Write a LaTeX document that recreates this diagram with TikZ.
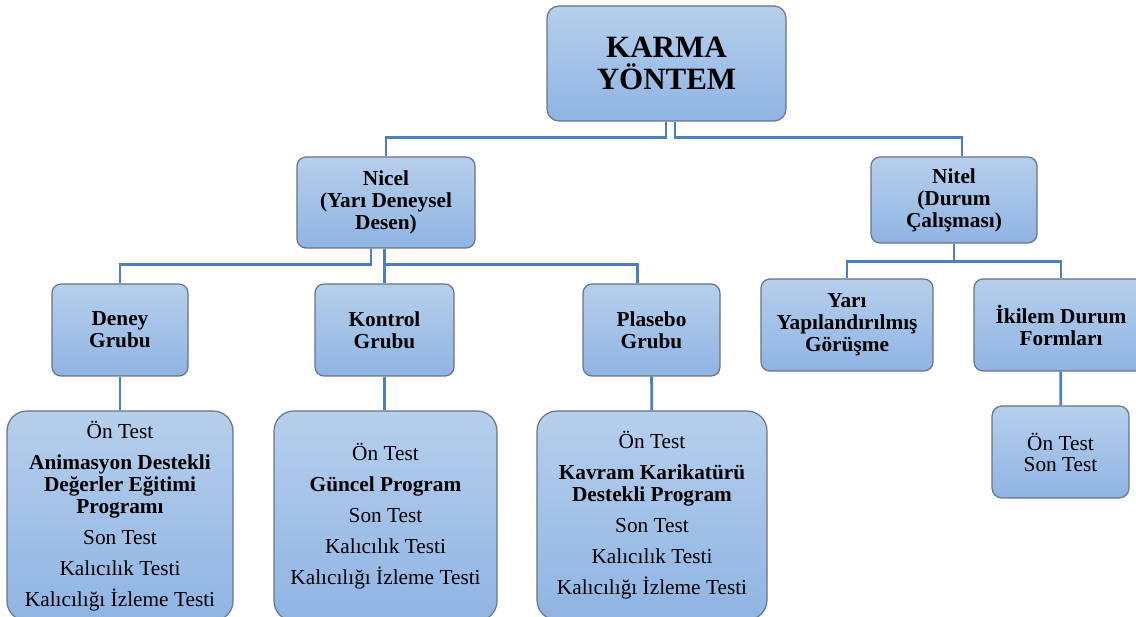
\documentclass[tikz,border=0pt]{standalone}
\usepackage{fontspec}
\setmainfont{Liberation Serif}
\definecolor{boxtop}{RGB}{182,207,236}
\definecolor{boxbot}{RGB}{143,180,227}
\definecolor{boxline}{RGB}{105,115,130}
\definecolor{linkblue}{RGB}{76,128,188}

\begin{document}
\begin{tikzpicture}[x=1pt, y=-1pt,
    box/.style={draw=boxline, line width=1.2pt, rounded corners=9pt,
        top color=boxtop, bottom color=boxbot, align=center, inner sep=0pt,
        font=\bfseries\fontsize{21.3}{22}\selectfont},
    listbox/.style={box, rounded corners=20pt, font=\fontsize{21.3}{22}\selectfont},
    link/.style={draw=linkblue, line width=2.8pt}]

    \useasboundingbox (0,0) rectangle (1136,617);
    \clip (0,0) rectangle (1136,617);

    % ust duzey
    \node[box, minimum width=239pt, minimum height=115pt, rounded corners=12pt,
        font=\bfseries\fontsize{31}{32}\selectfont] (karma) at (666.5,63.5) {KARMA\\YÖNTEM};
    \node[box, minimum width=178pt, minimum height=91pt] (nicel) at (386,202.5)
        {Nicel\\(Yarı Deneysel\\Desen)};
    \node[box, minimum width=166pt, minimum height=86pt] (nitel) at (954,200)
        {Nitel\\(Durum\\Çalışması)};

    % gruplar
    \node[box, minimum width=136pt, minimum height=92pt] (deney) at (120,330) {Deney\\Grubu};
    \node[box, minimum width=139pt, minimum height=92pt] (kontrol) at (384.5,330) {Kontrol\\Grubu};
    \node[box, minimum width=137pt, minimum height=92pt] (plasebo) at (651.5,330) {Plasebo\\Grubu};
    \node[box, minimum width=172pt, minimum height=92pt] (yari) at (847,325)
        {Yarı\\Yapılandırılmış\\Görüşme};
    \node[box, minimum width=174pt, minimum height=92pt] (ikilem) at (1061,325)
        {İkilem Durum\\Formları};

    % uygulamalar
    \node[listbox, minimum width=226pt, minimum height=210pt] (deneyalt) at (120,516)
        {Ön Test\\[9pt]\textbf{Animasyon Destekli}\\\textbf{Değerler Eğitimi}\\\textbf{Programı}\\[9pt]
         Son Test\\[9pt]Kalıcılık Testi\\[9pt]Kalıcılığı İzleme Testi};
    \node[listbox, minimum width=223pt, minimum height=210pt] (kontrolalt) at (385.5,516)
        {Ön Test\\[9pt]\textbf{Güncel Program}\\[9pt]Son Test\\[9pt]Kalıcılık Testi\\[9pt]
         Kalıcılığı İzleme Testi};
    \node[listbox, minimum width=230pt, minimum height=209pt] (plaseboalt) at (652,515.5)
        {Ön Test\\[9pt]\textbf{Kavram Karikatürü}\\\textbf{Destekli Program}\\[9pt]
         Son Test\\[9pt]Kalıcılık Testi\\[9pt]Kalıcılığı İzleme Testi};
    \node[listbox, rounded corners=10pt, minimum width=137pt, minimum height=92pt,
        font=\fontsize{21.3}{21}\selectfont] (ikilemalt) at (1060.5,452) {Ön Test\\Son Test};

    % baglantilar
    \draw[link] ([xshift=-0.5pt]karma.south) -- ++(0,16) -| (nicel.north);
    \draw[link] ([xshift=8.5pt]karma.south) -- ++(0,16) -| ([xshift=8pt]nitel.north);
    \draw[link] ([xshift=-15pt]nicel.south) -- ++(0,16) -| (deney.north);
    \draw[link] ([xshift=-1pt]nicel.south) -- ++(0,16) -| ([xshift=-14pt]plasebo.north);
    \draw[link] (kontrol.north) -- (kontrol.north |- nicel.south);
    \draw[link] (nitel.south) -- ++(0,18) -| (yari.north);
    \draw[link] (nitel.south) -- ++(0,18) -| (ikilem.north);
    \draw[link] (deney) -- (deneyalt);
    \draw[link] (kontrol) -- (kontrolalt.north -| kontrol.south);
    \draw[link] (plasebo) -- (plaseboalt);
    \draw[link] (ikilem) -- (ikilemalt);
\end{tikzpicture}
\end{document}
